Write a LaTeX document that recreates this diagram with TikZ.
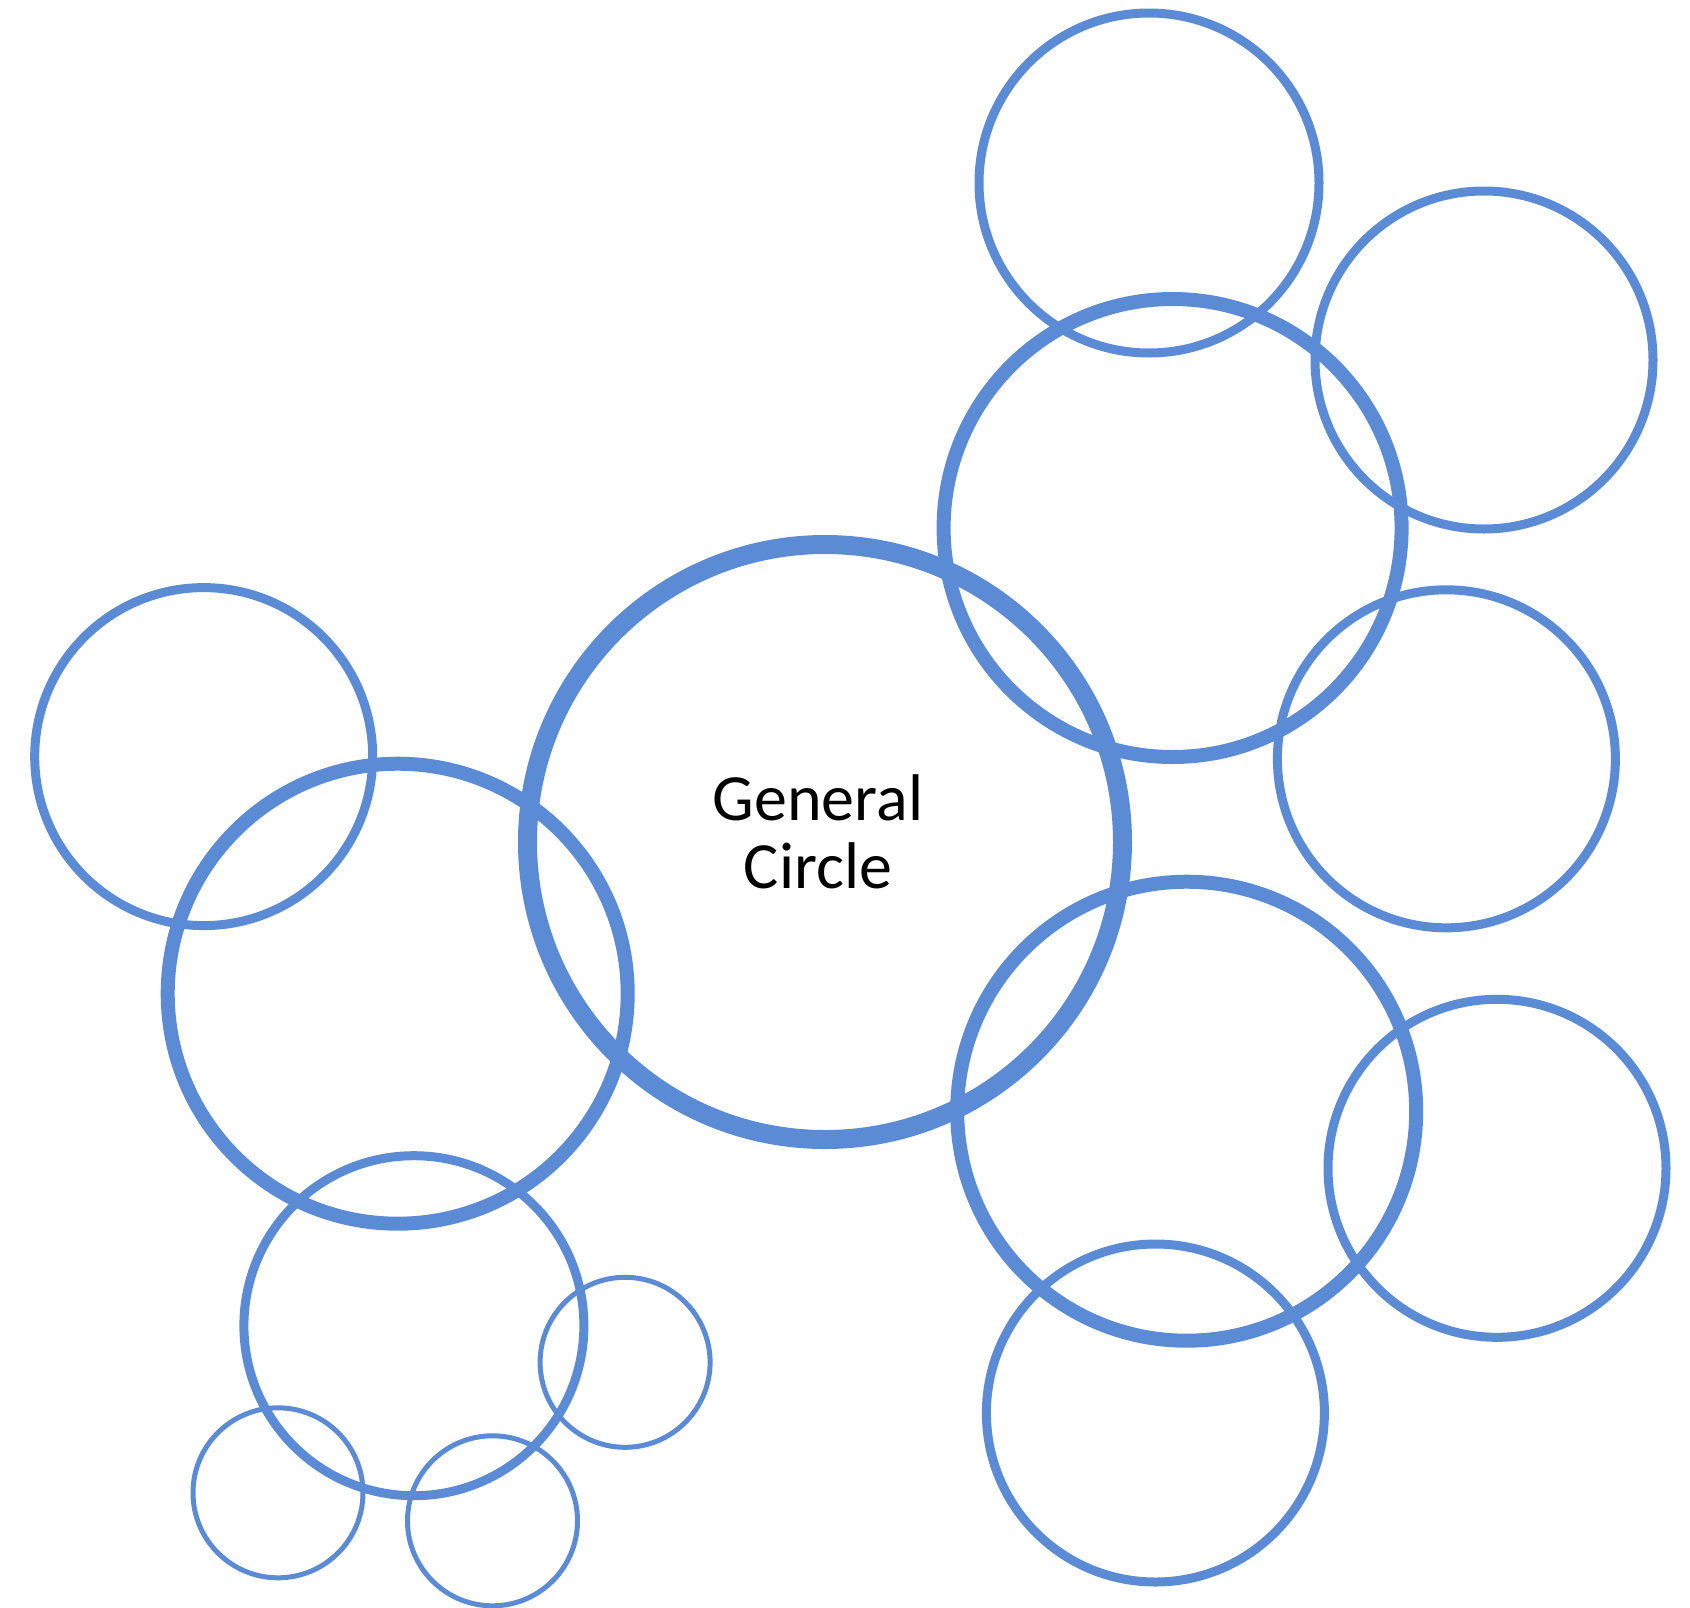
\documentclass[tikz,border=0pt]{standalone}
\usepackage{fontspec}
\setmainfont{Carlito}
\definecolor{ringblue}{RGB}{91,139,212}
\begin{document}
\begin{tikzpicture}[x=1pt,y=-1pt,
  ring/.style={draw=ringblue,circle,inner sep=0pt,fill=none},
  big/.style={ring,line width=19pt},
  large/.style={ring,line width=14pt},
  mid/.style={ring,line width=9pt},
  small/.style={ring,line width=5pt}]
\useasboundingbox[fill=white] (0,0) rectangle (1690,1607);
% central circle
\node[big,minimum size=595pt] (gen) at (825,842) {};
% upper-right cluster
\node[large,minimum size=458pt] (ur) at (1172.6,528) {};
\node[mid,minimum size=340pt] (urt) at (1149,183) {};
\node[mid,minimum size=338pt] (urr) at (1484,360) {};
\node[mid,minimum size=338pt] (urb) at (1446.4,758.8) {};
% lower-right cluster
\node[large,minimum size=459pt] (lr) at (1186.7,1111.2) {};
\node[mid,minimum size=338pt] (lrr) at (1497,1168.3) {};
\node[mid,minimum size=338pt] (lrb) at (1155.4,1413) {};
% left cluster
\node[large,minimum size=460pt] (lf) at (397.7,993.7) {};
\node[mid,minimum size=338pt] (lft) at (203.7,756.6) {};
\node[mid,minimum size=340pt] (lfb) at (413.9,1325.7) {};
\node[small,minimum size=170pt] (s1) at (625.1,1362.3) {};
\node[small,minimum size=170pt] (s2) at (278,1492.8) {};
\node[small,minimum size=170pt] (s3) at (492.5,1520.8) {};
% label
\node[align=center,font=\fontsize{66}{68}\selectfont] (lbl) at (818,832) {General\\Circle};
\end{tikzpicture}
\end{document}
